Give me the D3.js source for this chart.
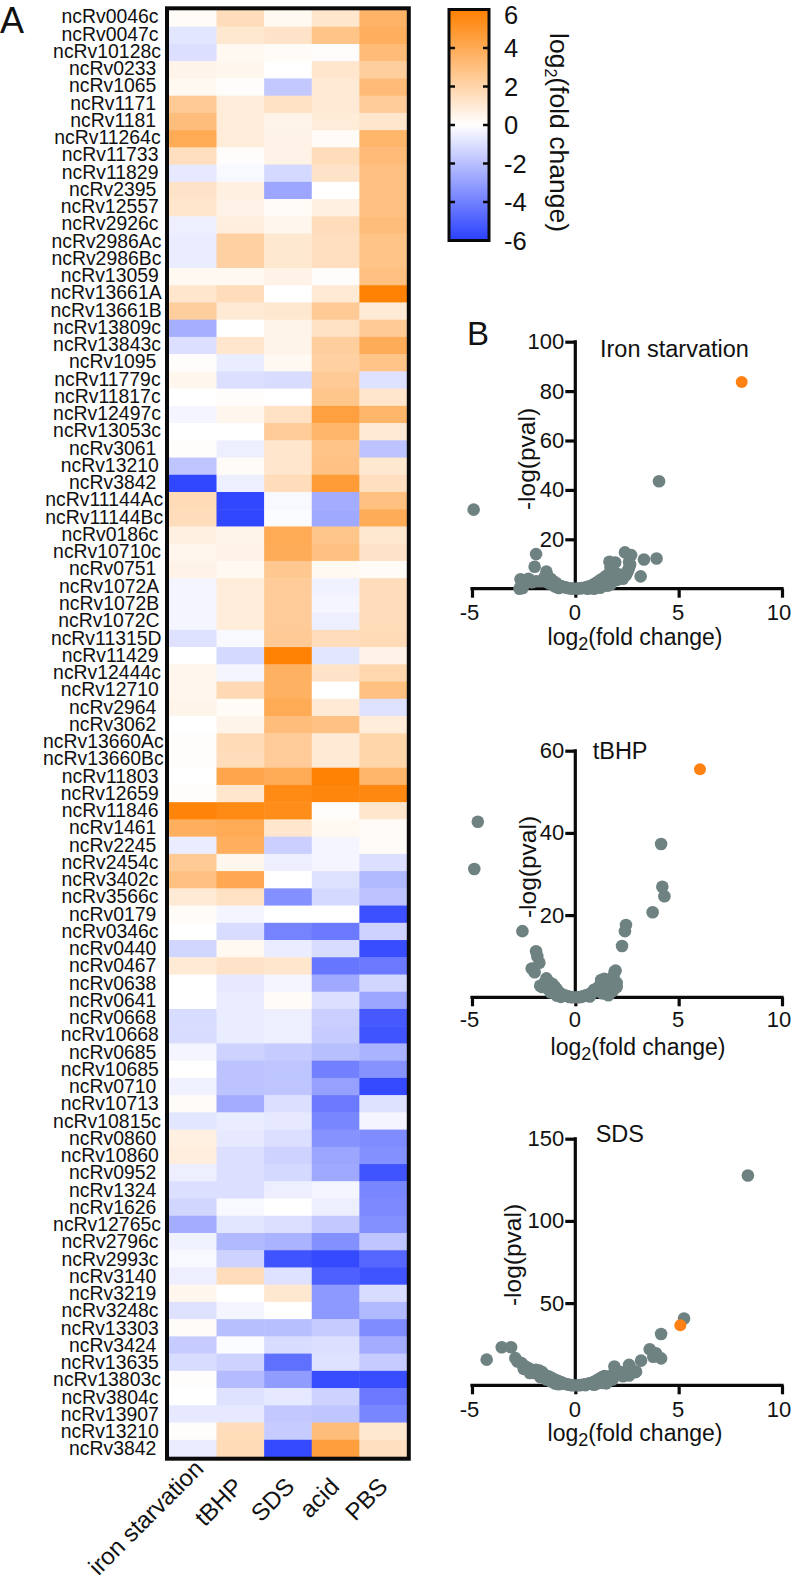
<!DOCTYPE html>
<html><head><meta charset="utf-8">
<script src="https://cdn.jsdelivr.net/npm/d3@7"></script>
<style>
html,body{margin:0;padding:0;background:#fff}
svg{display:block}
text{font-family:"Liberation Sans",Arial,sans-serif;fill:#111}
</style></head><body>
<svg id="c" width="793" height="1580"></svg>
<script>
const rowLabels=["ncRv0046c","ncRv0047c","ncRv10128c","ncRv0233","ncRv1065","ncRv1171","ncRv1181","ncRv11264c","ncRv11733","ncRv11829","ncRv2395","ncRv12557","ncRv2926c","ncRv2986Ac","ncRv2986Bc","ncRv13059","ncRv13661A","ncRv13661B","ncRv13809c","ncRv13843c","ncRv1095","ncRv11779c","ncRv11817c","ncRv12497c","ncRv13053c","ncRv3061","ncRv13210","ncRv3842","ncRv11144Ac","ncRv11144Bc","ncRv0186c","ncRv10710c","ncRv0751","ncRv1072A","ncRv1072B","ncRv1072C","ncRv11315D","ncRv11429","ncRv12444c","ncRv12710","ncRv2964","ncRv3062","ncRv13660Ac","ncRv13660Bc","ncRv11803","ncRv12659","ncRv11846","ncRv1461","ncRv2245","ncRv2454c","ncRv3402c","ncRv3566c","ncRv0179","ncRv0346c","ncRv0440","ncRv0467","ncRv0638","ncRv0641","ncRv0668","ncRv10668","ncRv0685","ncRv10685","ncRv0710","ncRv10713","ncRv10815c","ncRv0860","ncRv10860","ncRv0952","ncRv1324","ncRv1626","ncRv12765c","ncRv2796c","ncRv2993c","ncRv3140","ncRv3219","ncRv3248c","ncRv13303","ncRv3424","ncRv13635","ncRv13803c","ncRv3804c","ncRv13907","ncRv13210","ncRv3842"];
const columns=["iron starvation","tBHP","SDS","acid","PBS"];
const ironCol=[0.2,-0.8,-1.0,0.5,0.3,2.5,3.1,4.0,1.5,-0.7,1.3,1.2,-0.5,-0.6,-0.6,0.3,1.2,2.3,-2.5,-1.0,0.1,0.4,0,-0.3,0,0.1,-1.8,-5.8,1.7,1.6,0.7,0.4,0.6,-0.3,-0.3,-0.3,-0.9,0,0.4,0.4,0.5,0,0.1,0.1,0,0.1,5.8,3.8,-0.6,2.5,3.0,1.0,0.2,0,-1.3,1.0,0,0,-1.1,-1.1,-0.3,0,-0.4,0.2,-0.8,0.7,0.8,-0.5,-1.0,-1.3,-2.6,-0.4,-0.2,-0.5,0.4,-0.9,0.2,-1.6,-1.1,0.1,0,-0.7,0.1,-0.6];
const tbhpCol=[1.6,1.1,0.3,0.4,0.1,0.9,0.9,0.9,0.1,-0.2,0.7,0.6,0.8,2.2,2.2,0.3,1.6,1.0,0,1.2,-0.6,-1.0,0.1,0.4,0,-0.5,0.2,-0.5,-5.8,-5.8,0.5,0.6,0.3,0.9,0.9,0.9,-0.2,-1.2,-0.3,1.8,0.2,0.5,1.7,1.6,4.2,1.2,5.5,4.0,3.8,0.4,4.1,1.4,-0.3,-1.1,0.3,1.3,-0.7,-0.6,-0.6,-0.6,-1.4,-1.9,-1.9,-2.6,-0.6,-0.7,-1.0,-1.0,-1.0,-0.2,-0.8,-2.2,-1.4,1.6,0,-0.3,-2.0,-0.1,-1.4,-2.1,-0.9,-0.7,1.6,1.7];
const sdsCol=[0.3,1.3,0.2,0,-1.7,1.4,0.5,0.6,0.6,-1.2,-2.8,0.2,0.4,1.1,1.1,0.6,0,1.1,0.5,0.5,0.3,-1.1,0,1.4,2.4,1.2,1.2,1.6,-0.2,-0.1,4.0,3.9,2.6,2.4,2.4,2.4,2.5,5.9,3.7,3.7,4.0,3.1,2.4,2.4,4.0,5.5,5.4,1.2,-1.5,-0.5,0,-3.5,0,-3.9,-0.6,1.2,-0.3,0.2,-0.5,-0.5,-1.6,-1.8,-1.8,-1.0,-0.7,-1.0,-1.4,-1.2,-0.5,0,-1.0,-2.4,-5.4,-0.9,1.1,0,-2.0,-1.1,-4.5,-3.1,-0.7,-1.7,-1.6,-5.7];
const acidCol=[1.2,2.8,0.1,1.2,1.0,1.0,0.9,0.2,1.6,1.3,0,0.7,1.6,1.5,1.5,0.1,1.0,2.5,1.4,2.3,2.2,2.5,2.7,4.5,3.5,2.8,2.9,4.7,-2.6,-2.7,2.7,3.0,0.3,-0.4,-0.3,-0.5,1.6,-0.8,1.3,0,1.0,2.9,1.0,1.0,5.9,5.7,0.1,0.3,-0.3,-0.3,-0.9,-1.2,0,-4.2,-1.1,-4.3,-2.7,-1.0,-1.5,-1.6,-2.0,-4.0,-3.0,-4.2,-3.8,-3.4,-2.8,-2.7,-0.3,-0.5,-1.7,-3.5,-5.7,-5.0,-3.2,-3.2,-1.6,-1.0,-0.9,-5.6,-1.4,-1.8,3.1,4.6];
const pbsCol=[3.6,3.8,3.2,2.3,3.2,2.4,1.2,3.5,3.2,3.0,3.0,3.0,3.1,2.8,2.8,3.0,5.9,1.0,2.5,3.9,2.8,-0.9,1.2,3.5,1.0,-1.9,1.1,1.5,3.0,3.9,1.1,1.3,0.2,1.6,1.6,1.6,1.7,0.6,1.9,3.0,-0.9,0.9,2.0,2.0,3.5,5.6,1.2,0.2,0.2,-1.0,-2.2,-1.9,-5.5,-1.4,-5.6,-4.2,-1.3,-2.8,-5.2,-5.4,-2.4,-3.4,-5.7,-0.9,-0.3,-3.6,-3.5,-5.4,-3.8,-3.7,-3.5,-1.8,-4.8,-5.4,-1.1,-2.2,-3.6,-2.6,-1.6,-5.6,-4.2,-3.8,1.1,1.5];
const legendTicks=[6,4,2,0,-2,-4,-6];

const ironX=[-4.92,4.05,-1.9,-1.97,3.93,3.32,3.16,2.4,2.7,2.6,1.65,1.93,-1.4,-2.65,-2.27,-2.7,-2.55,-2.6,-2.4,-2.1,-1.9,-1.7,-1.5,-1.35,-1.2,-1.1,-0.95,-0.85,-0.7,-0.8,-0.6,-0.5,-0.4,-0.3,-0.2,-0.1,-1.4,-1.6,-1.0,0.1,0.2,0.3,0.4,0.5,0.6,0.7,0.8,0.9,1,1.1,1.2,1.3,1.4,1.5,1.6,1.55,1.7,1.8,1.7,2.0,2.3,2.45,2.55,2.6,2.5,0.9,1.2,0.6,2.65,2.1,1.0,1.35,-0.9,-1.25];
const ironY=[32,43.5,14,8.9,12.2,11.8,5,14.7,13.6,10.9,10.9,10.6,6.9,3.8,4,0,0.3,1.5,2.5,2.6,3,3,4.5,5.2,4,3.2,2.4,1.6,1.1,0.3,0.8,0.6,0.4,0.2,0.1,0.05,2.8,3.1,1.0,0.05,0.1,0.3,0.3,0.5,0.8,1,1.3,1.8,2.2,2.8,3.4,3.9,4.6,5.2,3.5,1.2,1.7,7.5,8.5,3.5,4,5.5,7.5,8.5,6.5,0,0.4,0,9.8,5.8,1.0,2,0.7,2.1];
const ironStar=[[8.05,83.7]];
const tbhpX=[-4.72,-4.89,4.15,4.21,4.31,3.74,2.45,2.4,2.26,-2.56,-1.9,-1.84,-1.74,-2.11,-1.97,-1.4,-1.5,-1.6,-1.3,-1.2,-1.1,-1,-0.9,-1.3,-0.8,-0.7,-1,-0.6,-0.5,-0.4,-0.3,-0.2,-0.1,-0.9,-1.2,0.1,0.2,0.3,0.4,0.5,0.6,0.7,0.8,0.9,1,1.1,1.2,1.25,1.4,1.5,1.55,1.6,1.7,1.75,1.9,1.95,1.85,1.3,0.7,2.0,2.0,1.8,1.6,1.4,1.2,-1.7,-0.7];
const tbhpY=[42.7,31.2,37.3,26.9,24.6,20.7,17.6,16.1,12.5,16.1,11.2,10,8.4,7,6.1,4.6,3.5,2.5,3.8,3,3.2,2.6,2,2,1.2,0.9,1,0.6,0.4,0.3,0.1,0.05,0,0.4,1.2,0,0.05,0.1,0.3,0.4,0.6,0.8,1,1.8,2,2.3,3,4.2,4.5,3.5,1.5,2.5,3.4,4.4,6.2,6.5,5.2,1,0.2,2.5,3.5,1.5,0.5,1,1.5,2.8,0.1];
const tbhpStar=[[6.03,55.5]];
const sdsX=[8.35,5.26,4.15,-4.29,-3.56,-3.11,3.6,3.77,4.15,3.18,3.9,2.6,1.89,2.94,-2.9,-2.8,-2.6,-2.5,-2.35,-2.2,-2.1,-1.9,-1.75,-1.6,-1.5,-1.3,-1.15,-1,-0.85,-0.7,-0.6,-0.5,-1,-0.8,-1.8,-2,-0.4,-0.3,-0.2,-0.1,0.1,0.2,0.3,0.4,0.5,0.6,0.7,0.8,0.9,1,1.1,1.2,1.3,1.4,1.5,1.6,1.7,1.8,2,2.1,2.2,2.5,2.6,2.7,0.9,1.5,-1.7,-1.4,-1.2,-2.2,-2.5,-0.9,0.5,1.0,1.3,1.8,2.3,2.6,2.9];
const sdsY=[127.6,40.6,31.2,15.6,23.1,23.1,21.9,17.4,16.4,15,19.5,12.4,11.4,8.3,16.5,14.5,13.5,12,11,10,9,9.5,9,8,6.5,5.5,4.5,3.5,2.8,2,1.2,0.9,1.2,0.6,7,7.5,0.6,0.3,0.1,0.05,0,0.1,0.2,0.4,0.6,0.9,1.2,1.5,2,2.8,3.5,4.2,5,5.6,5.3,4,3.5,6.5,8,7.5,8,8,9,10,0.3,1.2,5,3.5,2.5,7.5,10,1,0.1,0.8,1.5,3.5,5.5,6,8];
const sdsStar=[[5.08,36.5]];
const ironYTicks=[0,20,40,60,80,100], tbhpYTicks=[0,20,40,60], sdsYTicks=[0,50,100,150];
const xTicks=[-5,0,5,10];

const svg=d3.select("#c");
const colorScale=d3.scaleLinear().domain([-6,0,6]).range(["#2a40ff","#ffffff","#ff8000"]);

// ---- heatmap
const colVals=[ironCol,tbhpCol,sdsCol,acidCol,pbsCol];
const xH=d3.scaleBand().domain(columns).range([168.9,407]);
const yH=d3.scaleBand().domain(d3.range(rowLabels.length)).range([9.5,1457]);
const cells=svg.append("g");
colVals.forEach((vals,c)=>{
  cells.selectAll(null).data(vals).join("rect")
   .attr("x",xH(columns[c])).attr("width",xH.bandwidth()+0.5)
   .attr("y",(d,i)=>yH(i)).attr("height",yH.bandwidth()+0.5)
   .attr("fill",d=>colorScale(d));
});
svg.append("rect").attr("x",167).attr("y",8.3).attr("width",241.8).attr("height",1450.4)
  .attr("fill","none").attr("stroke","#0a0a0a").attr("stroke-width",4);
const yLab=d3.scalePoint().domain(d3.range(rowLabels.length)).range([16.5,1448.5]);
svg.append("g").selectAll("text").data(rowLabels).join("text")
  .attr("font-size",19.4).attr("y",(d,i)=>yLab(i)+6.9).text(d=>d)
  .attr("x",function(){const w=this.getComputedTextLength();return 137.2+0.22*w-w;});
const colLabelDx=[1,0,4,1,2];
const colLabelAnchor=c=>c===0?[205,1470]:[xH(columns[c])+xH.bandwidth()/2+4+colLabelDx[c],1488];
svg.append("g").selectAll("text").data(columns).join("text")
  .attr("font-size",24).attr("text-anchor","end")
  .attr("transform",(d,i)=>{const a=colLabelAnchor(i);return `translate(${a[0]},${a[1]}) rotate(-45)`;})
  .text(d=>d);
svg.append("text").attr("x",0).attr("y",33).attr("font-size",36).text("A");
svg.append("text").attr("x",467).attr("y",345).attr("font-size",33).text("B");

// ---- colour legend
const yLeg=d3.scaleLinear().domain([-6,6]).range([240.5,9.5]);
const defs=svg.append("defs");
const lg=defs.append("linearGradient").attr("id","lg").attr("x1",0).attr("x2",0).attr("y1",1).attr("y2",0);
colorScale.domain().forEach(v=>lg.append("stop").attr("offset",(v+6)/12).attr("stop-color",colorScale(v)));
svg.append("rect").attr("x",449).attr("y",9.5).attr("width",40).attr("height",231)
  .attr("fill","url(#lg)").attr("stroke","#0a0a0a").attr("stroke-width",3);
svg.append("g").selectAll("path").data(legendTicks.filter(t=>Math.abs(t)<6)).join("path")
  .attr("d",d=>`M449,${yLeg(d)}h6M489,${yLeg(d)}h-6`).attr("stroke","#0a0a0a").attr("stroke-width",2.5);
svg.append("g").selectAll("text").data(legendTicks).join("text")
  .attr("x",504).attr("y",d=>Math.max(yLeg(d),14.7)+9).attr("font-size",25.5).text(d=>d);
const legT=svg.append("text").attr("transform","translate(550,33) rotate(90)").attr("font-size",26.5);
legT.append("tspan").text("log");
legT.append("tspan").attr("font-size",16).attr("dy",5).text("2");
legT.append("tspan").attr("dy",-5).text("(fold change)");

// ---- volcano plots
function volcano(cfg){
  const x=d3.scaleLinear().domain([-5,10]).range([472,782]);
  const y=d3.scaleLinear().domain([0,d3.max(cfg.yTicks)]).range([cfg.y0,cfg.yTop]);
  const g=svg.append("g");
  const ax=g.append("g").attr("transform",`translate(0,${cfg.y0})`)
    .call(d3.axisBottom(x).tickValues(xTicks).tickSize(9).tickPadding(cfg.xPad).tickSizeOuter(0).tickFormat(d=>String(d)));
  const ay=g.append("g").attr("transform","translate(575.3,0)")
    .call(d3.axisLeft(y).tickValues(cfg.yTicks.filter(t=>t>0)).tickSize(10).tickPadding(1).tickSizeOuter(0).tickFormat(d=>String(d)));
  ay.select(".domain").remove();
  ay.append("line").attr("x1",0).attr("x2",0).attr("y1",y.range()[0]).attr("y2",y.range()[1]-1.5).attr("stroke","#0a0a0a").attr("stroke-width",3.2);
  [ax,ay].forEach(a=>{
    a.selectAll(".tick line").attr("stroke","#0a0a0a").attr("stroke-width",3.2);
    a.selectAll(".tick text").attr("font-size",22).style("font-family",'"Liberation Sans",Arial,sans-serif').attr("fill","#111");
  });
  ax.selectAll(".tick text").attr("dx",d=>d===10?-3.5:(d===-5?-3:-1));
  ax.select(".domain").attr("stroke","#0a0a0a").attr("stroke-width",3.2).attr("d",`M${x(-5)-1.6},0H${x(10)+1.6}`);
  g.append("g").selectAll("circle").data(cfg.xs.map((d,i)=>[d,cfg.ys[i]])).join("circle")
    .attr("cx",d=>x(d[0])).attr("cy",d=>y(d[1])).attr("r",6.3).attr("fill","#6f8282");
  g.append("g").selectAll("circle").data(cfg.star).join("circle")
    .attr("cx",d=>x(d[0])).attr("cy",d=>y(d[1])).attr("r",6).attr("fill","#ff8013");
  g.append("text").attr("x",cfg.titleX).attr("y",cfg.titleY).attr("font-size",23.5).text(cfg.title);
  const xl=g.append("text").attr("x",cfg.xlX).attr("y",cfg.xlY).attr("font-size",23).attr("text-anchor","middle");
  xl.append("tspan").text("log");
  xl.append("tspan").attr("font-size",18).attr("dy",5).text("2");
  xl.append("tspan").attr("dy",-5).text("(fold change)");
  g.append("text").attr("transform",`translate(${cfg.ylX},${cfg.ylY}) rotate(-90)`).attr("text-anchor","middle").attr("font-size",24.5).text("-log(pval)");
}
volcano({title:"Iron starvation",xs:ironX,ys:ironY,star:ironStar,yTicks:ironYTicks,y0:588.7,yTop:341.7,xPad:7,titleX:600,titleY:357,xlX:635,xlY:645,ylX:535,ylY:459});
volcano({title:"tBHP",xs:tbhpX,ys:tbhpY,star:tbhpStar,yTicks:tbhpYTicks,y0:997.3,yTop:750.7,xPad:5,titleX:592.7,titleY:759,xlX:638,xlY:1055,ylX:536,ylY:867});
volcano({title:"SDS",xs:sdsX,ys:sdsY,star:sdsStar,yTicks:sdsYTicks,y0:1385.3,yTop:1138.7,xPad:7,titleX:595.7,titleY:1141.7,xlX:635,xlY:1441,ylX:521,ylY:1255});
</script>
</body></html>
